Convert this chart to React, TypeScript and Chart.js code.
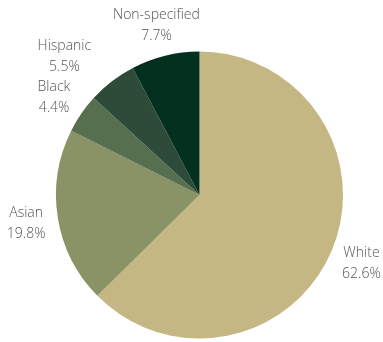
import React, { useEffect, useRef } from "react";
import { Chart, registerables } from "chart.js";

Chart.register(...registerables);

const categories = ["White", "Asian", "Black", "Hispanic", "Non-specified"];
const values = [62.6, 19.8, 4.4, 5.5, 7.7];
const valueLabels = ["62.6%", "19.8%", "4.4%", "5.5%", "7.7%"];
const colors = ["#C5B783", "#8A9366", "#56704F", "#2D4B38", "#04301F"];
// small label nudges (x, y) used to avoid overlaps
const labelNudges: [number, number][] = [[0, 1], [0, 1], [-1, 2], [-28, 1], [-1, 1]];

const labelPlugin = {
  id: "outerLabels",
  afterDatasetsDraw(chart: any) {
    const ctx = chart.ctx;
    const meta = chart.getDatasetMeta(0);
    ctx.save();
    ctx.font = "300 14px 'Open Sans'";
    ctx.fillStyle = "#555555";
    ctx.textAlign = "center";
    ctx.textBaseline = "middle";
    meta.data.forEach((arc: any, i: number) => {
      const { x, y, startAngle, endAngle, outerRadius } = arc.getProps(
        ["x", "y", "startAngle", "endAngle", "outerRadius"],
        true
      );
      const mid = (startAngle + endAngle) / 2;
      const d = outerRadius + 32;
      const lx = x + Math.cos(mid) * d + labelNudges[i][0];
      const ly = y + Math.sin(mid) * d + labelNudges[i][1];
      ctx.fillText(categories[i], lx, ly - 10.5);
      ctx.fillText(valueLabels[i], lx, ly + 10.5);
    });
    ctx.restore();
  },
};

export default function App() {
  const ref = useRef<HTMLCanvasElement>(null);
  useEffect(() => {
    document.body.style.margin = "0";
    const chart = new Chart(ref.current!, {
      type: "pie",
      data: {
        labels: categories,
        datasets: [
          {
            data: values,
            backgroundColor: colors,
            borderWidth: 0,
          },
        ],
      },
      options: {
        responsive: false,
        animation: false,
        layout: { padding: { top: 51.5, bottom: 3.5, left: 16, right: 0 } },
        plugins: {
          legend: { display: false },
          tooltip: { enabled: false },
        },
      },
      plugins: [labelPlugin],
    });
    return () => chart.destroy();
  }, []);
  return (
    <div style={{ width: 383, height: 342, background: "#fff" }}>
      <canvas ref={ref} width={383} height={342} />
    </div>
  );
}
